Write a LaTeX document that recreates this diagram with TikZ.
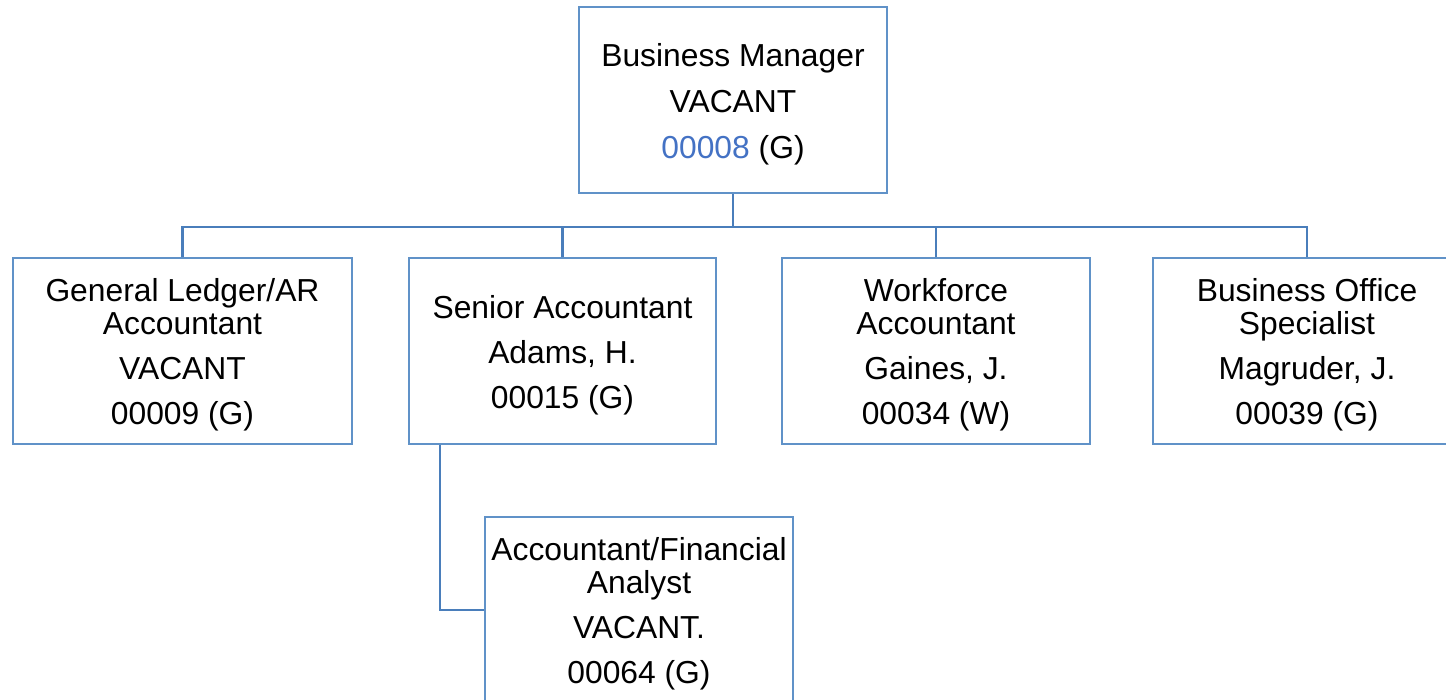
\documentclass[tikz,border=0pt]{standalone}
\usepackage{fontspec}
\setmainfont{Liberation Sans}
\definecolor{linecol}{RGB}{74,126,187}
\definecolor{boxcol}{RGB}{96,146,200}
\definecolor{numcol}{RGB}{68,114,196}
\newcommand{\tstrut}{\rule{0pt}{31pt}}
\begin{document}
\begin{tikzpicture}[x=1pt,y=-1pt,
  posbox/.style={draw=boxcol,line width=2.6pt,minimum width=308pt,minimum height=186pt,
    inner sep=0pt,align=center,font=\fontsize{31.8}{33}\selectfont},
  conn/.style={draw=linecol,line width=2.6pt}]
\useasboundingbox (0,0) rectangle (1446,699);
\clip (0,0) rectangle (1446,699);
\node[posbox] (top) at (733,100) {\tstrut Business Manager\\[13pt]VACANT\\[13pt]\textcolor{numcol}{00008} (G)};
\node[posbox,minimum width=339pt] (gl) at (182.5,351) {\tstrut General Ledger/AR\\Accountant\\[12pt]VACANT\\[12pt]00009 (G)};
\node[posbox,minimum width=307pt] (sa) at (562.5,351) {\tstrut Senior Accountant\\[12pt]Adams, H.\\[12pt]00015 (G)};
\node[posbox] (wf) at (936,351) {\tstrut Workforce\\Accountant\\[12pt]Gaines, J.\\[12pt]00034 (W)};
\node[posbox] (bo) at (1307,351) {\tstrut Business Office\\Specialist\\[12pt]Magruder, J.\\[12pt]00039 (G)};
\node[posbox] (ch) at (639,610) {\tstrut Accountant/Financial\\Analyst\\[12pt]VACANT.\\[12pt]00064 (G)};
\coordinate (bar) at (0,227);
\draw[conn] (top.south) -- (top.south |- bar);
\draw[conn] (top.south |- bar) -| (gl.north);
\draw[conn] (top.south |- bar) -| (sa.north);
\draw[conn] (top.south |- bar) -| (wf.north);
\draw[conn] (top.south |- bar) -| (bo.north);
\draw[conn] ([xshift=-122.5pt]sa.south) |- (ch.west);
\end{tikzpicture}
\end{document}
